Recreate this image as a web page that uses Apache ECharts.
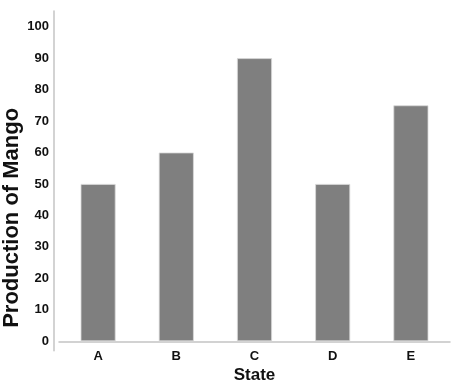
<!DOCTYPE html>
<html>
<head>
<meta charset="utf-8">
<style>
  html, body { margin: 0; padding: 0; background: #ffffff; }
  #chart { width: 468px; height: 387px; }
</style>
<script src="https://cdn.jsdelivr.net/npm/echarts@6/dist/echarts.min.js"></script>
</head>
<body>
<div id="chart"></div>
<script>
const categories = ['A', 'B', 'C', 'D', 'E'];
const production = [50, 60, 90, 50, 75];
const tickLabels = [0, 10, 20, 30, 40, 50, 60, 70, 80, 90, 100];
const xTitle = 'State';
const yTitle = 'Production of Mango';

const chart = echarts.init(document.getElementById('chart'), null, { renderer: 'canvas' });
const font = 'Liberation Sans, Arial, sans-serif';
chart.setOption({
  animation: false,
  backgroundColor: '#ffffff',
  grid: { left: 59, right: 18, top: 11, bottom: 36.3, containLabel: false, outerBoundsMode: 'none' },
  xAxis: {
    type: 'category',
    data: categories,
    axisTick: { show: false },
    axisLine: { onZero: true, lineStyle: { color: '#c4c4c4', width: 1.5 } },
    axisLabel: { margin: -1, color: '#111', fontSize: 13, fontWeight: 'bold', fontFamily: font },
    name: xTitle,
    nameLocation: 'middle',
    nameGap: 16,
    nameMoveOverlap: false,
    nameTextStyle: { color: '#111', fontSize: 17, fontWeight: 'bold', fontFamily: font }
  },
  yAxis: {
    type: 'value',
    min: -3,
    max: 105,
    interval: 1,
    offset: 5,
    splitLine: { show: false },
    axisTick: { show: false },
    axisLine: { show: true, lineStyle: { color: '#c4c4c4', width: 1.5 } },
    axisLabel: {
      margin: 5,
      color: '#111',
      fontSize: 13,
      fontWeight: 'bold',
      fontFamily: font,
      formatter: function (v) { return tickLabels.indexOf(v) >= 0 ? String(v) : ''; }
    },
    name: yTitle,
    nameLocation: 'middle',
    nameRotate: 90,
    nameGap: 31,
    nameMoveOverlap: false,
    nameTextStyle: { color: '#111', fontSize: 22, fontWeight: 'bold', fontFamily: font, padding: [0, 74, 0, 0] }
  },
  series: [{
    type: 'bar',
    data: production,
    barWidth: 35,
    itemStyle: { color: '#7f7f7f', borderColor: '#d9d9d9', borderWidth: 0.8 }
  }]
});
</script>
</body>
</html>
